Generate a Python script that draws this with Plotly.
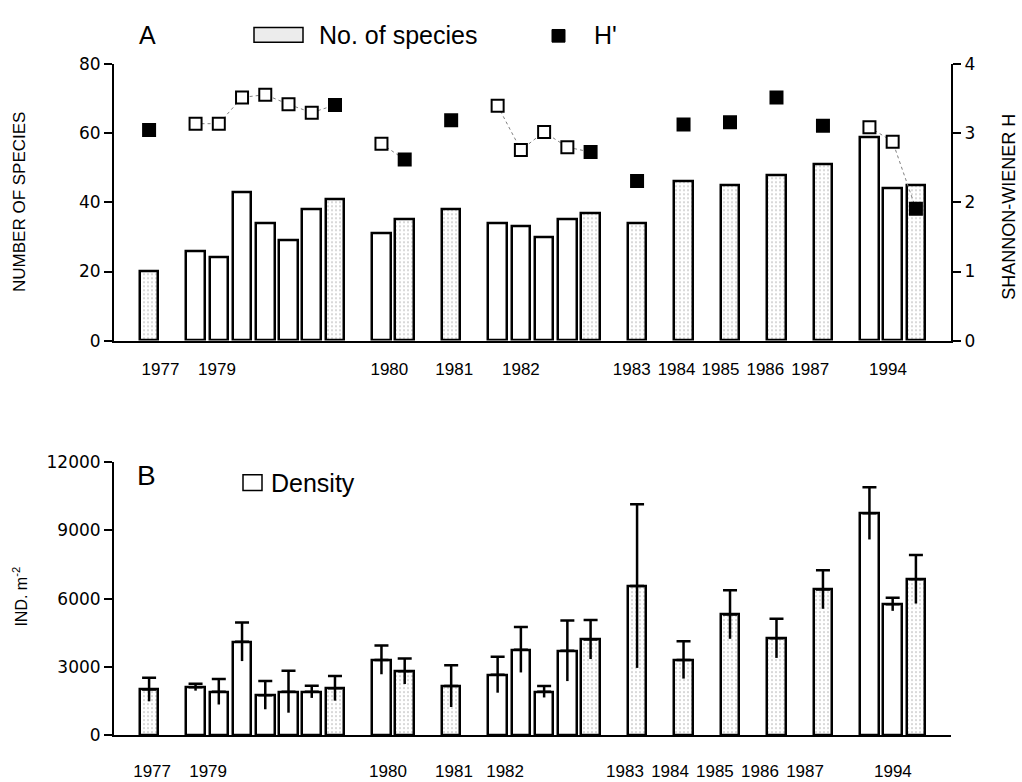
import plotly.graph_objects as go

# ---------------- data ----------------
years = [1977, 1979, 1979, 1979, 1979, 1979, 1979, 1979, 1980, 1980, 1981,
         1982, 1982, 1982, 1982, 1982, 1983, 1984, 1985, 1986, 1987,
         1994, 1994, 1994]
annual = [1, 0, 0, 0, 0, 0, 0, 1, 0, 1, 1, 0, 0, 0, 0, 1, 1, 1, 1, 1, 1, 0, 0, 1]
species = [20, 26, 24, 43, 34, 29, 38, 41, 31, 35, 38,
           34, 33, 30, 35, 37, 34, 46, 45, 48, 51, 59, 44, 45]
shannon = [3.05, 3.14, 3.14, 3.52, 3.56, 3.42, 3.30, 3.41, 2.85, 2.62, 3.19,
           3.40, 2.76, 3.02, 2.80, 2.73, 2.31, 3.13, 3.16, 3.52, 3.11,
           3.09, 2.88, 1.91]
density = [2000, 2100, 1900, 4100, 1750, 1900, 1900, 2050, 3300, 2800, 2150,
           2650, 3750, 1900, 3700, 4200, 6550, 3300, 5300, 4250, 6400,
           9750, 5750, 6850]
density_err = [520, 150, 560, 850, 620, 920, 270, 540, 630, 560, 920,
               790, 1000, 250, 1330, 860, 3600, 820, 1070, 860, 850,
               1150, 290, 1070]
year_labels = ["1977", "1979", "1980", "1981", "1982", "1983", "1984",
               "1985", "1986", "1987", "1994"]
species_ticks = [0, 20, 40, 60, 80]
shannon_ticks = [0, 1, 2, 3, 4]
density_ticks = [0, 3000, 6000, 9000, 12000]

# ---------------- layout helpers ----------------
W, H = 1022, 782
def px(x):
    return x / W
def py(y):
    return 1 - y / H

# slot positions: consecutive samples, one empty slot between years
xs = []
slot = 0
prev = None
for yr in years:
    if prev is not None and yr != prev:
        slot += 1
    xs.append(slot)
    slot += 1
    prev = yr

# label positions (slot units) as placed in the original figure
top_tick_pos = [0.49, 2.92, 10.34, 13.13, 16.0, 20.77, 22.70, 24.59, 26.52, 28.45, 31.8]
bot_tick_pos = [0.13, 2.54, 10.28, 13.12, 15.32, 20.48, 22.42, 24.35, 26.29, 28.23, 32.01]

FONT = "Liberation Sans"
GREY_PAT = dict(shape=[("." if a else "") for a in annual], fgcolor="#a0a0a0",
                bgcolor="white", size=4, solidity=0.22)

fig = go.Figure()

# ---- Panel A: species bars ----
fig.add_trace(go.Bar(
    x=xs, y=species, width=0.8, xaxis="x", yaxis="y",
    marker=dict(color="white", line=dict(color="black", width=2.5), pattern=GREY_PAT),
    showlegend=False))

# H' line segments within each year
lx, ly = [], []
for i, (x, v) in enumerate(zip(xs, shannon)):
    if i > 0 and years[i] != years[i - 1]:
        lx.append(None); ly.append(None)
    lx.append(x); ly.append(v)
fig.add_trace(go.Scatter(
    x=lx, y=ly, mode="lines", xaxis="x", yaxis="y2",
    line=dict(color="#808080", width=1, dash="dot"), showlegend=False, connectgaps=False))
fig.add_trace(go.Scatter(
    x=xs, y=shannon, mode="markers", xaxis="x", yaxis="y2",
    marker=dict(symbol="square", size=12,
                color=["black" if a else "white" for a in annual],
                line=dict(color="black", width=2)),
    showlegend=False))

# ---- Panel B: density bars with error bars ----
fig.add_trace(go.Bar(
    x=xs, y=density, width=0.8, xaxis="x2", yaxis="y3",
    marker=dict(color="white", line=dict(color="black", width=2.5), pattern=GREY_PAT),
    showlegend=False))
fig.add_trace(go.Scatter(
    x=xs, y=density, mode="markers", xaxis="x2", yaxis="y3",
    marker=dict(size=1, color="rgba(0,0,0,0)"),
    error_y=dict(type="data", array=density_err, arrayminus=[0] * len(density),
                 symmetric=False, color="black", thickness=2.5, width=7),
    showlegend=False, hoverinfo="skip"))
fig.add_trace(go.Scatter(
    x=xs, y=density, mode="markers", xaxis="x2", yaxis="y3",
    marker=dict(size=1, color="rgba(0,0,0,0)"),
    error_y=dict(type="data", array=[0] * len(density), arrayminus=density_err,
                 symmetric=False, color="black", thickness=2.5, width=0),
    showlegend=False, hoverinfo="skip"))

xdom = [px(114), px(951)]
xrange_ = [-1.51, 34.51]
tickfont = dict(family=FONT, size=17, color="black")
yfont = dict(family="DejaVu Sans", size=17, color="black")
yax_common = dict(showgrid=False, zeroline=False, showline=True, linecolor="black",
                  linewidth=2, ticks="outside", ticklen=8, tickwidth=2,
                  tickcolor="black", tickfont=yfont, tickmode="array")

fig.update_layout(
    width=W, height=H, margin=dict(l=0, r=0, t=0, b=0),
    paper_bgcolor="white", plot_bgcolor="white",
    xaxis=dict(domain=xdom, range=xrange_, anchor="y", showgrid=False, zeroline=False,
               showline=True, linecolor="black", linewidth=2, ticks="",
               tickmode="array", tickvals=top_tick_pos, ticktext=year_labels,
               tickfont=tickfont, ticklabelstandoff=12),
    yaxis=dict(domain=[py(339.3), py(55.7)], range=[0, 80], anchor="x",
               tickvals=species_ticks, ticktext=[str(t) for t in species_ticks],
               **yax_common),
    yaxis2=dict(overlaying="y", side="right", range=[0, 4], anchor="x",
                tickvals=shannon_ticks, ticktext=[str(t) for t in shannon_ticks],
                **yax_common),
    xaxis2=dict(domain=xdom, range=xrange_, anchor="y3", showgrid=False, zeroline=False,
                showline=True, linecolor="black", linewidth=2, ticks="",
                tickmode="array", tickvals=bot_tick_pos, ticktext=year_labels,
                tickfont=tickfont, ticklabelstandoff=20),
    yaxis3=dict(domain=[py(744), py(464)], range=[0, 12000], anchor="x2",
                tickvals=density_ticks, ticktext=[str(t) for t in density_ticks],
                **yax_common),
    bargap=0, showlegend=False,
)

ann = []
def add_text(x, y, text, size, angle=0, xanchor="center", family=FONT):
    ann.append(dict(x=px(x), y=py(y), xref="paper", yref="paper", text=text,
                    showarrow=False, textangle=angle, xanchor=xanchor, yanchor="middle",
                    font=dict(family=family, size=size, color="black")))

add_text(147, 26, "A", 25)
add_text(146, 478, "B", 28)
add_text(317, 26, "No. of species", 25, xanchor="left")
add_text(592, 26, "H'", 25, xanchor="left")
add_text(269, 485, "Density", 25, xanchor="left")
add_text(20, 197, "NUMBER OF SPECIES", 17, angle=-90)
add_text(1009, 202, "SHANNON-WIENER H", 18, angle=-90)
add_text(20, 602, "IND. m<sup>-2</sup>", 16, angle=-90)
fig.update_layout(annotations=ann)

shapes = [
    dict(type="rect", xref="paper", yref="paper", x0=px(254), x1=px(303), y0=py(33), y1=py(18),
         line=dict(color="black", width=1.5), fillcolor="#ececec"),
    dict(type="rect", xref="paper", yref="paper", x0=px(552), x1=px(565), y0=py(33), y1=py(20),
         line=dict(color="black", width=1), fillcolor="black"),
    dict(type="rect", xref="paper", yref="paper", x0=px(243), x1=px(262), y0=py(493), y1=py(477),
         line=dict(color="black", width=1.5), fillcolor="white"),
]
fig.update_layout(shapes=shapes)

fig.write_html("out.html", config={"displayModeBar": False},
               post_script="document.body.style.margin='0';")
